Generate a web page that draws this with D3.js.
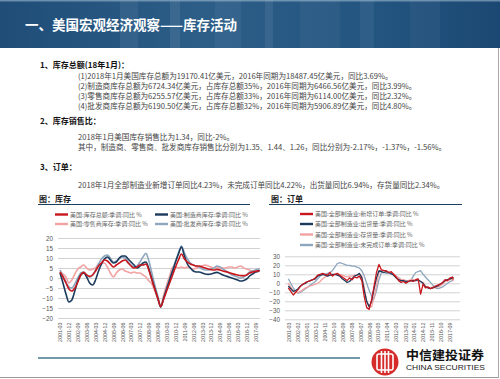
<!DOCTYPE html>
<html>
<head>
<meta charset="utf-8">
<script src="https://cdn.jsdelivr.net/npm/d3@7"></script>
<style>
  html, body { margin: 0; padding: 0; background: #fff; }
  svg { display: block; font-family: "Noto Sans CJK SC", "Noto Sans", sans-serif; }
</style>
</head>
<body>
<svg id="chart" width="500" height="379"></svg>
<script>
// quarterly observations, YoY %
const months = ["2001-03","2001-06","2001-09","2001-12","2002-03","2002-06","2002-09","2002-12","2003-03","2003-06","2003-09","2003-12","2004-03","2004-06","2004-09","2004-12","2005-03","2005-06","2005-09","2005-12","2006-03","2006-06","2006-09","2006-12","2007-03","2007-06","2007-09","2007-12","2008-03","2008-06","2008-09","2008-12","2009-03","2009-06","2009-09","2009-12","2010-03","2010-06","2010-09","2010-12","2011-03","2011-06","2011-09","2011-12","2012-03","2012-06","2012-09","2012-12","2013-03","2013-06","2013-09","2013-12","2014-03","2014-06","2014-09","2014-12","2015-03","2015-06","2015-09","2015-12","2016-03","2016-06","2016-09","2016-12","2017-03","2017-06","2017-09","2017-12","2018-01"];

// 图：库存
const invTotal  = [3.0,0.5,-2.5,-5.5,-6.5,-5.0,-2.0,1.5,2.8,1.5, 0.8,1.5,3.5,6.0,7.5,9.0,8.5,7.0,5.5,6.5, 7.5,8.5,9.0,7.5,6.0,5.0,5.5,6.5,6.5,7.0, 3.8,-1.0,-5.5,-10.0,-14.3,-10.5,-6.5,-2.5,1.5,5.5, 9.0,12.0,9.5,8.0,7.0,6.5,6.0,6.0,5.5,5.0, 4.5,4.2,4.0,4.3,4.0,3.5,3.2,2.8,2.2,1.8, 1.5,1.2,1.2,1.5,2.5,3.0,3.3,3.6,3.7];
const invMfg    = [2.5,-2.5,-8.0,-12.0,-11.0,-6.5,-1.5,1.5,2.5,0.5, -2.5,-3.5,-1.0,3.5,7.0,9.5,10.5,9.0,7.5,8.0, 10.0,11.0,11.0,9.5,8.0,6.5,5.0,6.0,7.5,8.0, 4.5,-0.5,-5.3,-10.0,-14.5,-10.0,-5.5,-1.0,3.5,8.0, 12.0,15.5,11.0,7.0,5.0,3.5,3.0,3.0,2.5,2.0, 1.8,2.0,2.5,2.8,2.2,1.5,1.0,0.5,0.0,-0.5, -1.0,-1.5,-1.2,-0.5,1.0,2.0,3.0,3.5,4.0];
const invRetail = [3.0,2.0,0.5,-2.5,-1.0,2.0,4.5,5.5,6.5,5.0, 4.0,4.5,5.0,7.0,7.5,7.5,5.5,2.5,0.5,2.5, 4.0,4.5,3.5,3.0,2.5,3.0,2.5,2.5,1.5,0.5, -1.5,-3.0,-6.5,-10.5,-13.5,-8.5,-3.5,1.0,5.5,5.5, 5.0,5.5,5.0,5.5,5.0,4.5,5.0,5.5,6.0,6.5, 6.0,5.5,5.0,5.5,5.0,5.0,5.0,5.5,5.5,5.0, 5.5,6.0,5.0,4.5,4.0,3.5,3.5,3.3,3.2];
const invWhole  = [4.0,1.0,-2.0,-4.5,-5.0,-3.0,0.0,2.5,3.0,1.5, 0.5,1.5,4.0,7.0,9.5,11.0,11.5,10.0,8.0,8.5, 9.5,10.5,10.0,8.0,6.5,5.5,6.0,8.0,10.5,12.3, 8.5,2.5,-3.5,-9.0,-14.5,-9.5,-5.0,-0.5,4.0,8.5, 12.5,16.0,12.5,9.5,7.5,6.5,6.0,5.5,4.5,4.0, 4.0,4.5,5.0,6.0,5.5,4.5,3.5,2.5,1.5,1.0, 0.5,0.0,0.5,1.5,3.0,3.5,4.0,4.5,4.5];

// 图：订单
const ordNew      = [-5,-9,-13,-10,-7,-3,-1,1,2,3, 4,6,9,10,11,10,9,12,8,10, 11,9,7,5,3,6,4,7,6,8, 3,-15,-27,-29,-18,-3,12,21,15,14, 14,12,13,10,7,3,1,2,0,2, 3,2,4,5,-12,-1,-5,-4,-6,-5, -3,-2,-1,1,4,3,6,7,4.2];
const ordShip     = [-3,-6,-9,-8,-6,-3,-1,0,2,3, 4,5,8,9,10,9,8,9,10,10, 9,8,5,3,1,2,5,8,9,11, 6,-8,-20,-26,-20,-6,6,14,13,12, 13,12,11,9,6,4,3,3,2,2, 3,3,3,4,2,0,-4,-5,-6,-5, -4,-3,-1,1,3,4,5,6,6.9];
const ordInv      = [0,-4,-8,-10,-10,-9,-7,-5,-4,-3, -2,-1,0,2,5,7,8,9,9,10, 10,10,9,8,7,8,8,9,9,10, 8,-5,-20,-27,-26,-16,-2,12,15,14, 13,12,11,10,8,6,4,4,3,3, 4,4,3,3,2,1,-3,-5,-5,-4, -5,-4,-3,-1,2,3,4,5,2.3];
const ordUnfilled = [5,0,-5,-9,-11,-10,-8,-6,-4,-2, 0,2,5,8,10,10,11,12,14,18, 22,23,22,21,20,20,19,19,18,17, 14,8,0,-8,-14,-17,-8,4,12,12, 11,11,10,10,8,6,4,2,1,2, 3,8,12,13,14,10,7,4,1,-2, -5,-6,-5,-4,-2,0,2,3,4.2];

const invTicks = ["2001-03","2001-12","2002-09","2003-06","2004-03","2004-12","2005-09","2006-06","2007-03","2007-12","2008-09","2009-06","2010-03","2010-12","2011-09","2012-06","2013-03","2013-12","2014-09","2015-06","2016-03","2016-12","2017-09"];
const ordTicks = ["2001-03","2002-02","2003-01","2003-12","2004-11","2005-10","2006-09","2007-08","2008-07","2009-06","2010-05","2011-04","2012-03","2013-02","2014-01","2014-12","2015-11","2016-10","2017-09"];
const invYTicks = [20, 15, 10, 5, 0, -5, -10, -15, -20];
const ordYTicks = [30, 20, 10, 0, -10, -20, -30, -40];

const parse = d3.timeParse("%Y-%m");
const dates = months.map(parse);
const svg = d3.select("#chart");

const RED = "#c8161d", NAVY = "#1b3a5c", PINK = "#f3a2a2", GREY = "#8ea6be";

// ---- header banner
const defs = svg.append("defs");
const grad = defs.append("linearGradient").attr("id", "hdr");
grad.append("stop").attr("offset", "0%").attr("stop-color", "#1f4d78");
grad.append("stop").attr("offset", "40%").attr("stop-color", "#2c5e88");
grad.append("stop").attr("offset", "75%").attr("stop-color", "#235581");
grad.append("stop").attr("offset", "100%").attr("stop-color", "#1b4873");
svg.append("rect").attr("width", 500).attr("height", 48).attr("fill", "url(#hdr)");
[[120, 18, 0.06], [170, 10, 0.08], [215, 26, 0.05], [265, 8, 0.07], [300, 40, 0.04], [360, 14, 0.06], [410, 30, 0.04]]
  .forEach(([x, w, o]) => svg.append("rect").attr("x", x).attr("y", 0).attr("width", w).attr("height", 48)
    .attr("fill", "#fff").attr("opacity", o));
svg.append("rect").attr("y", 0).attr("width", 500).attr("height", 1.5).attr("fill", "#9fb9cf").attr("opacity", 0.6);
svg.append("text").attr("x", 25).attr("y", 30).attr("fill", "#fff")
  .style("font-size", "13.5px").style("font-weight", "bold")
  .text("一、美国宏观经济观察——库存活动");

// ---- frame
svg.append("line").attr("x1", 0).attr("x2", 498).attr("y1", 377.5).attr("y2", 377.5).attr("stroke", "#9a9a9a");
svg.append("line").attr("x1", 498.5).attr("x2", 498.5).attr("y1", 48).attr("y2", 378).attr("stroke", "#a8a8a8");

// ---- body text
const lines = [
  { x: 40, y: 68, b: true, t: "1、库存总额(18年1月)：" },
  { x: 78, y: 78.5, t: "(1)2018年1月美国库存总额为19170.41亿美元，2016年同期为18487.45亿美元，同比3.69%。" },
  { x: 78, y: 88.5, t: "(2)制造商库存总额为6724.34亿美元，占库存总额35%，2016年同期为6466.56亿美元，同比3.99%。" },
  { x: 78, y: 98.5, t: "(3)零售商库存总额为6255.57亿美元，占库存总额33%，2016年同期为6114.00亿美元，同比2.32%。" },
  { x: 78, y: 108.5, t: "(4)批发商库存总额为6190.50亿美元，占库存总额32%，2016年同期为5906.89亿美元，同比4.80%。" },
  { x: 40, y: 124, b: true, t: "2、库存销售比：" },
  { x: 78, y: 139.5, t: "2018年1月美国库存销售比为1.34，同比-2%。" },
  { x: 78, y: 150, t: "其中，制造商、零售商、批发商库存销售比分别为1.35、1.44、1.26，同比分别为-2.17%，-1.37%，-1.56%。" },
  { x: 40, y: 170, b: true, t: "3、订单：" },
  { x: 78, y: 188, t: "2018年1月全部制造业新增订单同比4.23%，未完成订单同比4.22%，出货量同比6.94%，存货量同比2.34%。" }
];
svg.selectAll("text.body").data(lines).enter().append("text").attr("class", "body")
  .attr("x", d => d.x).attr("y", d => d.y)
  .attr("fill", d => d.b ? "#111" : "#444")
  .style("font-size", d => d.b ? "8px" : "7.6px")
  .style("font-weight", d => d.b ? "bold" : "normal")
  .text(d => d.t);

// ---- panels
function drawPanel(o) {
  svg.append("text").attr("x", o.titleX).attr("y", 202).attr("fill", "#1a1a1a")
    .style("font-size", "8px").style("font-weight", "bold").text(o.title);
  svg.append("line").attr("x1", o.ruleX0).attr("x2", o.ruleX1).attr("y1", 204.5).attr("y2", 204.5)
    .attr("stroke", "#1f3f5f").attr("stroke-width", 1.2);

  const x = d3.scaleTime().domain([dates[0], dates[dates.length - 1]]).range([o.x0, o.x1]);
  const y = d3.scaleLinear().domain(o.yDomain).range(o.yRange);

  const gy = svg.append("g").attr("transform", `translate(${o.gridL},0)`)
    .call(d3.axisLeft(y).tickValues(o.yTicks).tickSize(-(o.gridR - o.gridL)).tickPadding(5));
  gy.select(".domain").remove();
  gy.selectAll("line").attr("stroke", "#d2d2d2");
  gy.selectAll("text").attr("fill", "#555").style("font-size", "6.3px")
    .style("font-family", "'Liberation Sans', Arial, sans-serif");

  const gx = svg.append("g").attr("transform", `translate(0,${o.labelTop})`)
    .call(d3.axisBottom(x).tickValues(o.xTicks.map(parse)).tickFormat(d3.timeFormat("%Y-%m")).tickSize(0));
  gx.select(".domain").remove();
  gx.selectAll("text").attr("transform", "rotate(-90)").attr("text-anchor", "end")
    .attr("x", 0).attr("y", 0).attr("dy", "0.35em")
    .attr("fill", "#555").style("font-size", "5.3px")
    .style("font-family", "'Liberation Sans', Arial, sans-serif");

  const line = d3.line().x((d, i) => x(dates[i])).y(d => y(d)).curve(o.curve);
  o.series.forEach(s => {
    svg.append("path").datum(s.values).attr("d", line).attr("fill", "none")
      .attr("stroke", s.color).attr("stroke-width", o.lw).attr("stroke-linejoin", "round");
  });

  // legend
  o.legend.forEach(s => {
    svg.append("line").attr("x1", s.lx).attr("x2", s.lx + 13).attr("y1", s.ly).attr("y2", s.ly)
      .attr("stroke", s.color).attr("stroke-width", 2.4);
    svg.append("text").attr("x", s.lx + 15).attr("y", s.ly + 2).attr("fill", "#666")
      .style("font-size", "6px").text(s.name);
  });
}

const invSeries = [
  { name: "美国:零售商库存:季调:同比 %", values: invRetail, color: PINK, lx: 55, ly: 224 },
  { name: "美国:批发商库存:季调:同比 %", values: invWhole, color: GREY, lx: 155, ly: 224 },
  { name: "美国:制造商库存:季调:同比 %", values: invMfg, color: NAVY, lx: 155, ly: 214.5 },
  { name: "美国:库存总额:季调:同比 %", values: invTotal, color: RED, lx: 55, ly: 214.5 }
];
drawPanel({
  title: "图：库存", titleX: 39, ruleX0: 38, ruleX1: 250,
  x0: 60, x1: 259.5, yDomain: [-20, 20], yRange: [318, 238],
  gridL: 58, gridR: 260, yTicks: invYTicks, xTicks: invTicks, labelTop: 322.5,
  curve: d3.curveMonotoneX, lw: 1.6, series: invSeries, legend: invSeries
});

const ordSeries = [
  { name: "美国:全部制造业:未完成订单:季调:同比 %", values: ordUnfilled, color: GREY, lx: 300, ly: 245 },
  { name: "美国:全部制造业:存货量:季调:同比 %", values: ordInv, color: PINK, lx: 300, ly: 234.5 },
  { name: "美国:全部制造业:出货量:季调:同比 %", values: ordShip, color: NAVY, lx: 300, ly: 224 },
  { name: "美国:全部制造业:新增订单:季调:同比 %", values: ordNew, color: RED, lx: 300, ly: 214 }
];
drawPanel({
  title: "图：订单", titleX: 271, ruleX0: 269, ruleX1: 462,
  x0: 288.3, x1: 453.3, yDomain: [-40, 30], yRange: [319.3, 256.3],
  gridL: 285, gridR: 460, yTicks: ordYTicks, xTicks: ordTicks, labelTop: 322.5,
  curve: d3.curveLinear, lw: 1.3, series: ordSeries, legend: ordSeries
});

// ---- bottom rule
svg.append("line").attr("x1", 38).attr("x2", 360).attr("y1", 358).attr("y2", 358)
  .attr("stroke", "#7298ab").attr("stroke-width", 2);

// ---- logo
const logo = svg.append("g");
logo.append("circle").attr("cx", 385).attr("cy", 362).attr("r", 13.5).attr("fill", "#d52b2b");
logo.append("rect").attr("x", 377).attr("y", 354).attr("width", 16).attr("height", 16).attr("rx", 2)
  .attr("fill", "none").attr("stroke", "#fff").attr("stroke-width", 1.6);
[381.5, 385, 388.5].forEach(cx => logo.append("rect").attr("x", cx - 0.8).attr("y", 351)
  .attr("width", 1.6).attr("height", 22).attr("fill", "#fff"));
logo.append("text").attr("x", 406).attr("y", 359.5).attr("fill", "#111")
  .attr("textLength", 78).attr("lengthAdjust", "spacingAndGlyphs")
  .style("font-size", "12.5px").style("font-weight", "bold").text("中信建投证券");
logo.append("text").attr("x", 406).attr("y", 370).attr("fill", "#222")
  .attr("textLength", 79).attr("lengthAdjust", "spacingAndGlyphs")
  .style("font-size", "8px").style("font-family", "'Liberation Sans', Arial, sans-serif")
  .text("CHINA SECURITIES");
</script>
</body>
</html>
